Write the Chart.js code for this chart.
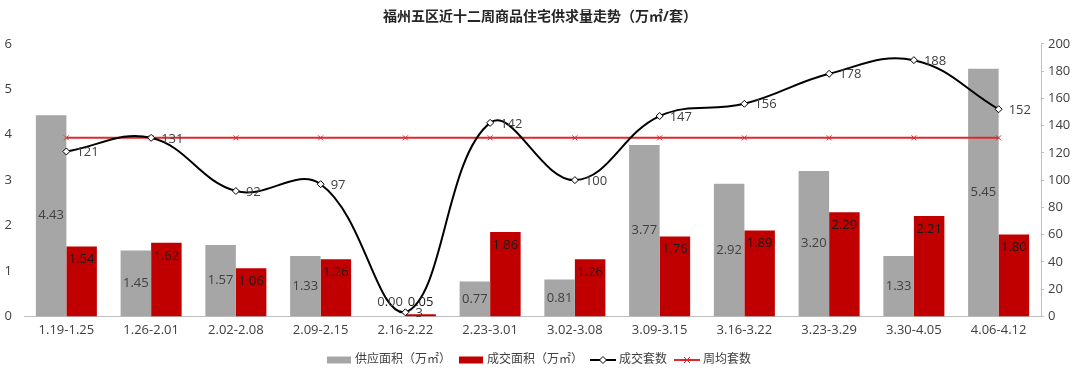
<!DOCTYPE html>
<html>
<head>
<meta charset="utf-8">
<script src="https://cdn.jsdelivr.net/npm/chart.js@4/dist/chart.umd.min.js"></script>
<style>
  html,body{margin:0;padding:0;background:#fff;}
  #wrap{width:1080px;height:378px;position:relative;}
</style>
</head>
<body>
<div id="wrap"><canvas id="c"></canvas></div>
<script>
const titleText = '福州五区近十二周商品住宅供求量走势（万㎡/套）';
const categories = ['1.19-1.25','1.26-2.01','2.02-2.08','2.09-2.15','2.16-2.22','2.23-3.01','3.02-3.08','3.09-3.15','3.16-3.22','3.23-3.29','3.30-4.05','4.06-4.12'];
const supplyArea = [4.43,1.45,1.57,1.33,0.00,0.77,0.81,3.77,2.92,3.20,1.33,5.45];
const dealArea   = [1.54,1.62,1.06,1.26,0.05,1.86,1.26,1.76,1.89,2.29,2.21,1.80];
const dealUnits  = [121,131,92,97,3,142,100,147,156,178,188,152];
const avgUnits   = [131,131,131,131,131,131,131,131,131,131,131,131];
const seriesNames = ['供应面积（万㎡）','成交面积（万㎡）','成交套数','周均套数'];
const leftTicks = [0,1,2,3,4,5,6];
const rightTicks = [0,20,40,60,80,100,120,140,160,180,200];

const FONT = '"Open Sans","Noto Sans CJK SC",sans-serif';
const GREY = '#a6a6a6', RED = '#c00000', AVG = '#e0282e', TXT = '#404040';

function icon(kind){
  const c = document.createElement('canvas');
  c.width = 26; c.height = 10;
  const x = c.getContext('2d');
  if (kind === 'grey' || kind === 'red'){
    x.fillStyle = kind === 'grey' ? GREY : RED;
    x.fillRect(1,1.5,24,7);
  } else if (kind === 'line'){
    x.strokeStyle = '#000'; x.lineWidth = 2;
    x.beginPath(); x.moveTo(0,5); x.lineTo(26,5); x.stroke();
    x.fillStyle = '#fff'; x.lineWidth = 1;
    x.beginPath(); x.moveTo(13,1.5); x.lineTo(16.5,5); x.lineTo(13,8.5); x.lineTo(9.5,5); x.closePath();
    x.fill(); x.stroke();
  } else {
    x.strokeStyle = AVG; x.lineWidth = 2;
    x.beginPath(); x.moveTo(0,5); x.lineTo(26,5); x.stroke();
    x.lineWidth = 1;
    x.beginPath(); x.moveTo(10,2); x.lineTo(16,8); x.moveTo(16,2); x.lineTo(10,8); x.stroke();
  }
  return c;
}
const icons = [icon('grey'), icon('red'), icon('line'), icon('avg')];

const labelPlugin = {
  id: 'vlabels',
  afterDatasetsDraw(chart){
    const ctx = chart.ctx;
    ctx.save();
    ctx.font = '13px ' + FONT;
    ctx.textBaseline = 'middle';
    const base = chart.scales.y.getPixelForValue(0);
    ctx.textAlign = 'center';
    ctx.fillStyle = TXT;
    chart.getDatasetMeta(0).data.forEach((el,i)=>{
      let y = (el.y + el.base)/2;
      y = Math.min(y, base - 14);
      ctx.fillText(supplyArea[i].toFixed(2), el.x, y);
    });
    ctx.fillStyle = '#1a1a1a';
    chart.getDatasetMeta(1).data.forEach((el,i)=>{
      let y = el.y + 13;
      y = Math.min(y, base - 14);
      ctx.fillText(dealArea[i].toFixed(2), el.x, y);
    });
    ctx.fillStyle = TXT;
    ctx.textAlign = 'left';
    chart.getDatasetMeta(2).data.forEach((el,i)=>{
      ctx.fillText(String(dealUnits[i]), el.x + 10, el.y + 1);
    });
    ctx.restore();
  }
};

new Chart(document.getElementById('c'), {
  data: {
    labels: categories,
    datasets: [
      { type:'bar', label: seriesNames[0], data: supplyArea, backgroundColor: GREY, yAxisID:'y', order: 2,
        categoryPercentage: 0.72, barPercentage: 1.0 },
      { type:'bar', label: seriesNames[1], data: dealArea, backgroundColor: RED, yAxisID:'y', order: 2,
        categoryPercentage: 0.72, barPercentage: 1.0 },
      { type:'line', label: seriesNames[2], data: dealUnits, yAxisID:'y1', order: 0,
        borderColor:'#000', borderWidth: 2, tension: 0.4, fill:false,
        pointStyle:'rectRot', pointRadius: 3.5, pointBackgroundColor:'#fff', pointBorderColor:'#000', pointBorderWidth:1 },
      { type:'line', label: seriesNames[3], data: avgUnits, yAxisID:'y1', order: 1,
        borderColor: AVG, borderWidth: 2, tension: 0, fill:false,
        pointStyle:'crossRot', pointRadius: 3.5, pointBorderColor: AVG, pointBorderWidth:1 }
    ]
  },
  options: {
    responsive: true,
    maintainAspectRatio: false,
    animation: false,
    layout: { padding: { left: 0, right: 0, top: 0, bottom: 2 } },
    plugins: {
      title: { display: true, text: titleText, color: '#262626',
        font: { family: FONT, size: 14, weight: 'bold' }, padding: { top: 9, bottom: 18 } },
      legend: {
        position: 'bottom',
        labels: {
          usePointStyle: true, pointStyleWidth: 20, boxHeight: 10, padding: 10,
          color: TXT, font: { family: FONT, size: 12 },
          generateLabels: (chart) => seriesNames.map((n,i)=>({
            text: n, pointStyle: icons[i], fillStyle: 'transparent', strokeStyle: 'transparent',
            lineWidth: 0, hidden: false, datasetIndex: i, fontColor: TXT
          }))
        }
      },
      tooltip: { enabled: false }
    },
    scales: {
      x: {
        offset: true,
        grid: { display: true, drawOnChartArea: false, drawTicks: false, color: '#bfbfbf' },
        border: { display: true, color: '#bfbfbf', width: 1 },
        ticks: { color: TXT, font: { family: FONT, size: 13 }, maxRotation: 0, autoSkip: false, padding: 6 }
      },
      y: {
        position: 'left', min: 0, max: 6,
        afterBuildTicks: (s) => { s.ticks = leftTicks.map(v=>({value:v})); },
        grid: { display: false },
        border: { display: false },
        ticks: { color: TXT, font: { family: FONT, size: 13 }, padding: 4 },
        afterFit: (s) => { s.width = 24; }
      },
      y1: {
        position: 'right', min: 0, max: 200,
        afterBuildTicks: (s) => { s.ticks = rightTicks.map(v=>({value:v})); },
        grid: { display: true, drawOnChartArea: false, drawTicks: true, tickLength: 3, color: '#bfbfbf' },
        border: { display: true, color: '#bfbfbf', width: 1 },
        ticks: { color: TXT, font: { family: FONT, size: 13 }, padding: 4 },
        afterFit: (s) => { s.width = 39; }
      }
    }
  },
  plugins: [labelPlugin]
});
</script>
</body>
</html>
